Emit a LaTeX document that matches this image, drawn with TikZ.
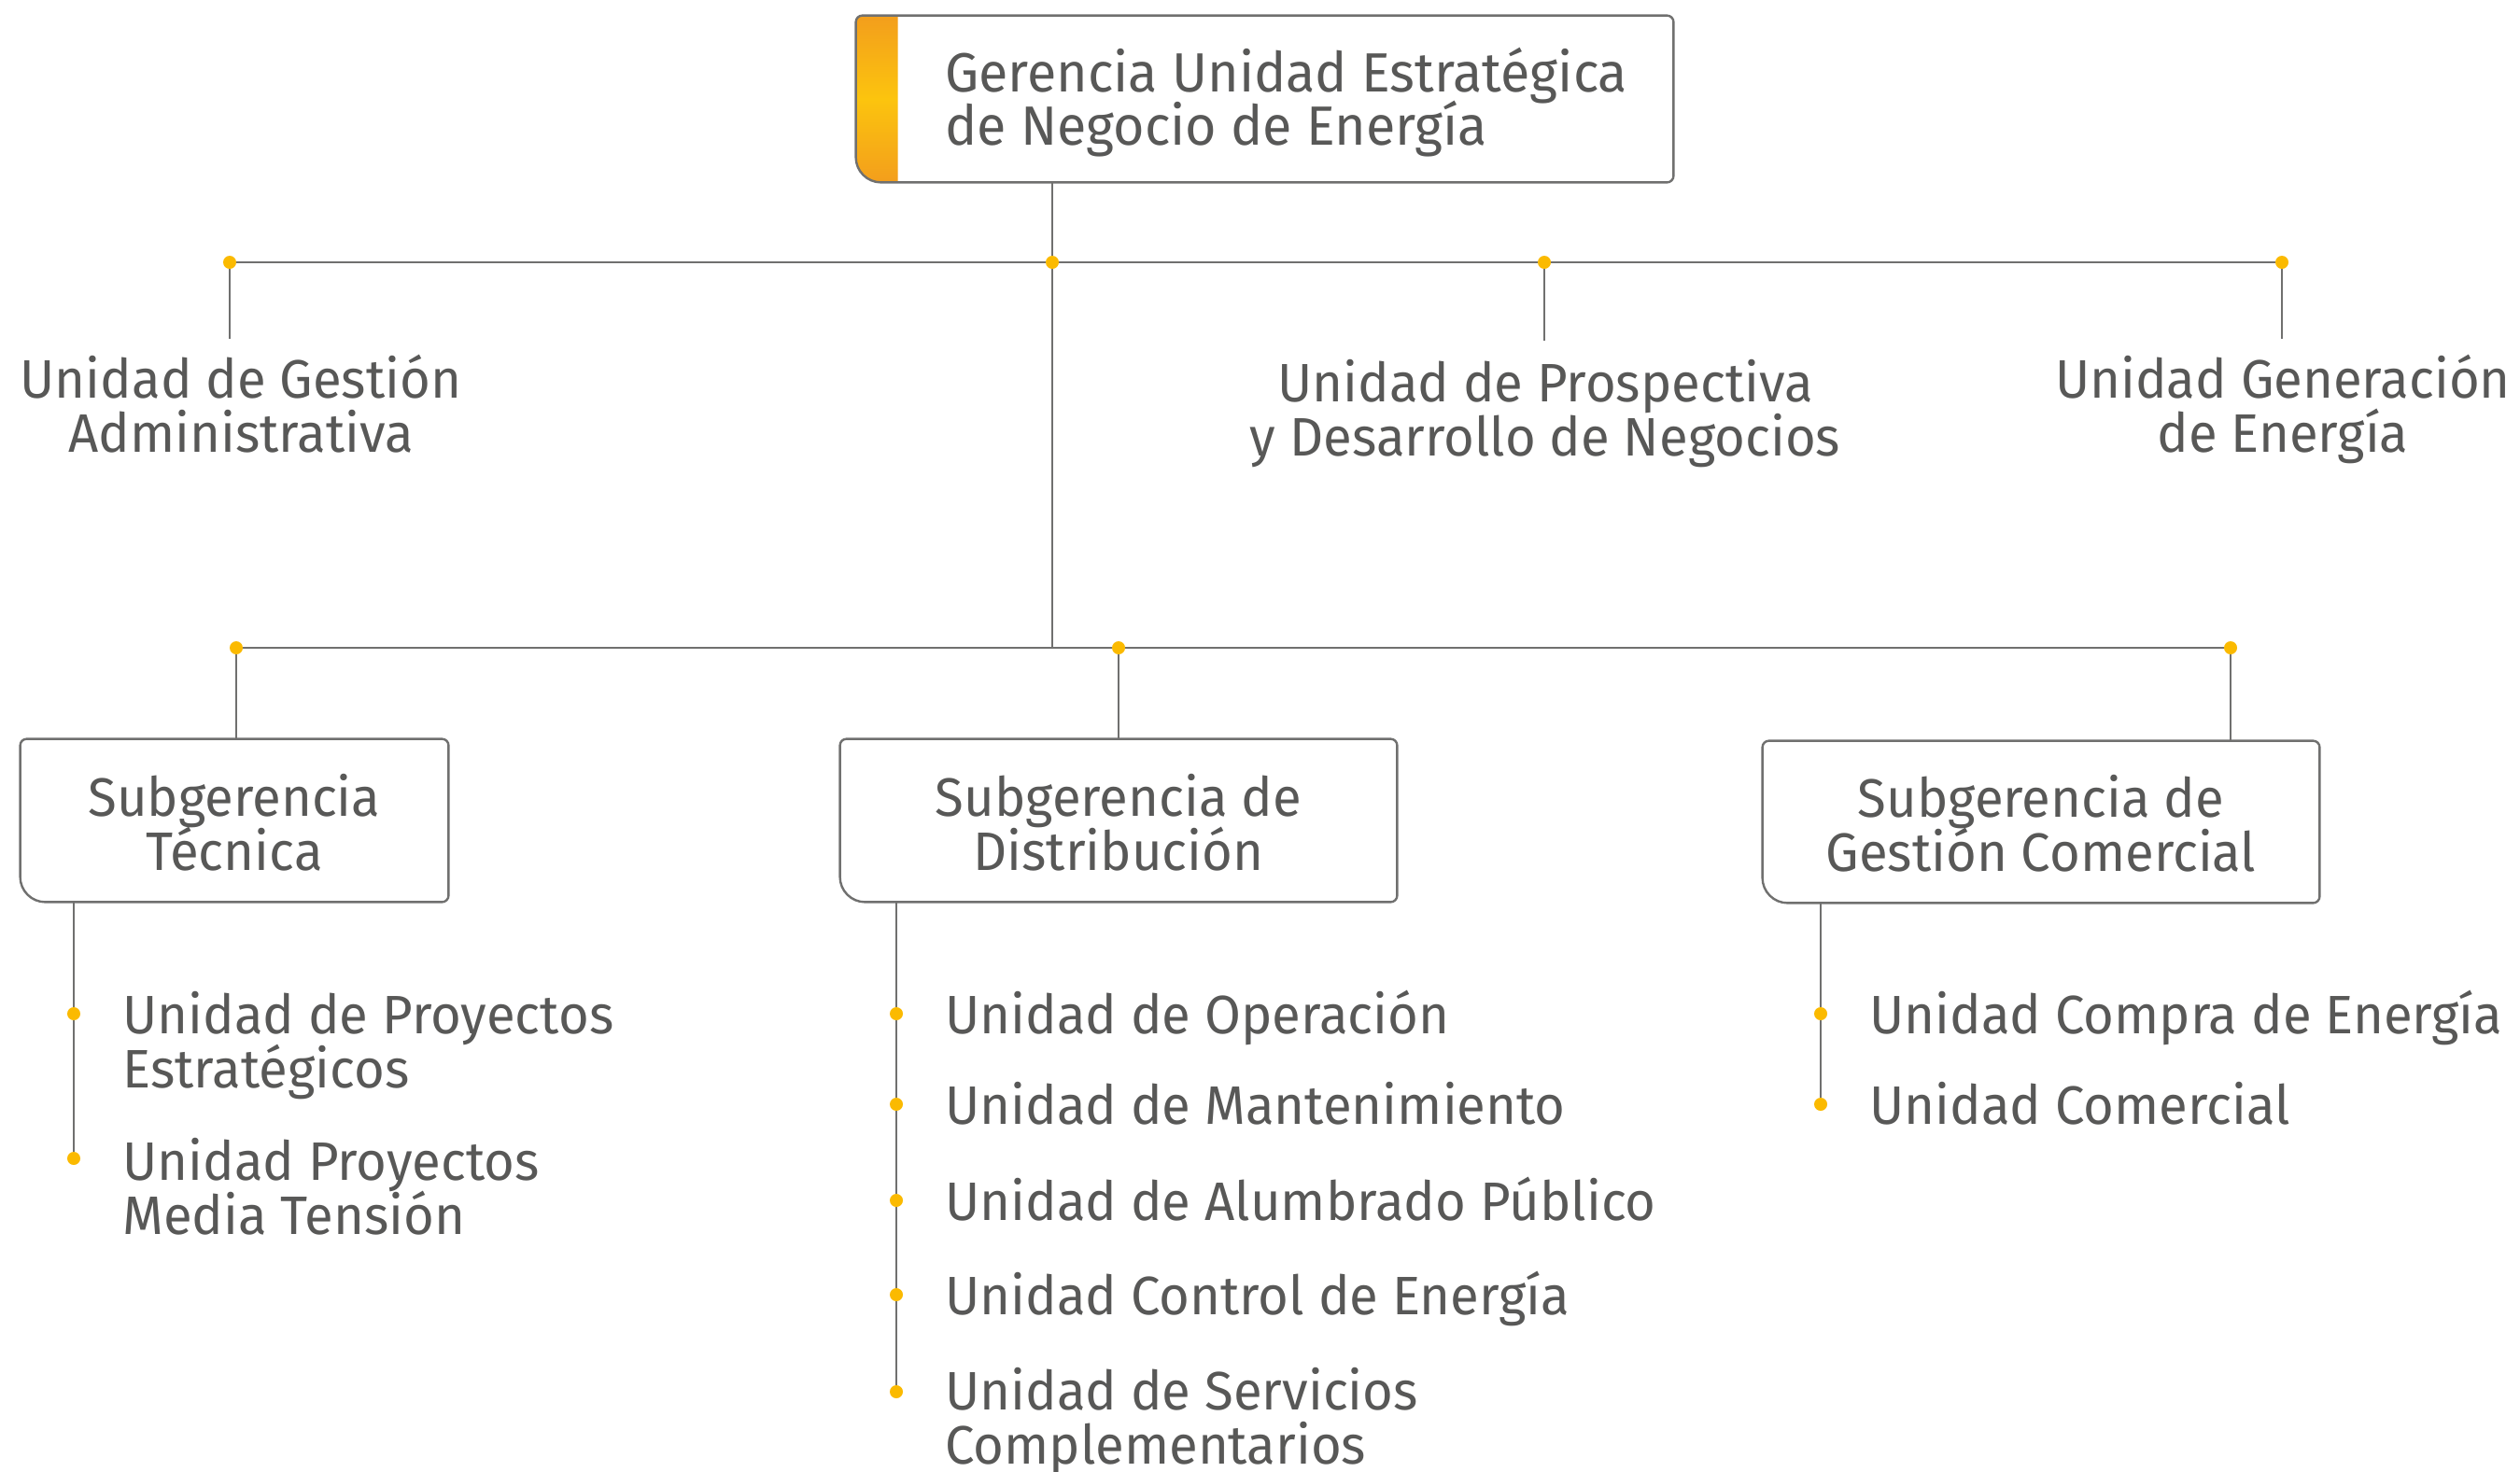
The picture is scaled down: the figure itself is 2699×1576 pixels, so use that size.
\documentclass[tikz,border=0pt]{standalone}
\usepackage{fontspec}
\setmainfont{Fira Sans}[FakeStretch=0.97]
\usetikzlibrary{calc}
\definecolor{txt}{RGB}{88,88,87}
\definecolor{ln}{RGB}{112,112,111}
\definecolor{dotc}{RGB}{251,186,0}
\definecolor{orA}{RGB}{243,158,28}
\definecolor{orB}{RGB}{252,196,14}
\newcommand\Tl{\rule{0pt}{30pt}}
\newcommand\Bl{\rule[-9pt]{0pt}{9pt}}
\newcommand\Bb{\rule[-6pt]{0pt}{6pt}}
\begin{document}
\lineskiplimit=-100pt
\lineskip=0pt
\begin{tikzpicture}[x=0.5pt,y=-0.5pt,
  lbl/.style={inner sep=0pt,text=txt,font=\fontsize{29}{29}\selectfont},
  toplbl/.style={inner sep=0pt,text=txt,font=\fontsize{29.6}{28.5}\selectfont,align=left,anchor=west},
  ctr/.style={lbl,align=center},
  lft/.style={lbl,align=left,anchor=west},
  boxn/.style={ctr,minimum height=87pt},
  outline/.style={draw=ln,line width=1.2pt},
  conn/.style={draw=ln,line width=1.25pt},
  dotn/.style={circle,fill=dotc,inner sep=0pt,minimum size=7pt}]
\fill[white] (0,0) rectangle (2699,1576);
\useasboundingbox (0,0) rectangle (2699,1576);

% top box
\node[minimum width=437.5pt,minimum height=89pt,inner sep=0pt] (top) at (1354.5,106) {};
\shade[top color=orA,bottom color=orA,middle color=orB]
  (top.west) [rounded corners=3.5pt] -- (top.north west) -- ($(top.north west)+(40,0)$) [sharp corners]
  -- ($(top.north west)+(45,0)$) -- ($(top.south west)+(45,0)$) -- ($(top.south west)+(40,0)$)
  [rounded corners=13.5pt] -- (top.south west) -- cycle;
\node[toplbl] (toptxt) at (1012,105.5) {\Tl Gerencia Unidad Estratégica\\de Negocio de Energía\Bl};

% coordinates
\coordinate (d1) at (246,281);
\coordinate (j1) at (1127,281);
\coordinate (d3) at (1654,281);
\coordinate (d4) at (2444,281);
\coordinate (e1) at (246,363);
\coordinate (e3) at (1654,365);
\coordinate (e4) at (2444,363);
\coordinate (s1) at (253,694);
\coordinate (j2) at (1127,694);
\coordinate (s2) at (1198,694);
\coordinate (s3) at (2389,694);
\coordinate (t1) at (79,1086);
\coordinate (t2) at (79,1241);
\coordinate (u1) at (960,1086);
\coordinate (u2) at (960,1183);
\coordinate (u3) at (960,1286);
\coordinate (u4) at (960,1387);
\coordinate (u5) at (960,1491);
\coordinate (c1) at (1950,1086);
\coordinate (c2) at (1950,1183);

% level 1 labels
\node[ctr] (adm) at (258,434) {\Tl Unidad de Gestión\\Administrativa\Bl};
\node[ctr] (pro) at (1655,438) {\Tl Unidad de Prospectiva\\y Desarrollo de Negocios\Bl};
\node[ctr] (gen) at (2445,434) {\Tl Unidad Generación\\de Energía\Bl};

% subgerencias
\node[boxn,minimum width=229pt] (tec) at (251,879) {\Tl Subgerencia\\Técnica\Bb};
\node[boxn,minimum width=298pt] (dis) at (1198,879) {\Tl Subgerencia de\\Distribución\Bb};
\node[boxn,minimum width=298pt,minimum height=86.5pt] (com) at (2186,880.5) {\Tl Subgerencia de\\Gestión Comercial\Bb};

% connectors
\draw[conn] (top.south -| j1) -- (j2);
\draw[conn] (d1) -- (d4);
\draw[conn] (d1) -- (e1);
\draw[conn] (d3) -- (e3);
\draw[conn] (d4) -- (e4);
\draw[conn] (s1) -- (s3);
\draw[conn] (s1) -- (tec.north -| s1);
\draw[conn] (s2) -- (dis.north -| s2);
\draw[conn] (s3) -- (com.north -| s3);
\draw[conn] (tec.south -| t1) -- (t2);
\draw[conn] (dis.south -| u1) -- (u5);
\draw[conn] (com.south -| c1) -- (c2);

% outlines
\foreach \b in {top,tec,dis,com}{
  \draw[outline] (\b.west) [rounded corners=3.5pt] -- (\b.north west) -- (\b.north) -- (\b.north east)
    -- (\b.east) -- (\b.south east) -- (\b.south) [rounded corners=13.5pt] -- (\b.south west) -- cycle;
}

% dots
\node[dotn] (nd1) at (d1) {};
\node[dotn] (nj1) at (j1) {};
\node[dotn] (nd3) at (d3) {};
\node[dotn] (nd4) at (d4) {};
\node[dotn] (ns1) at (s1) {};
\node[dotn] (ns2) at (s2) {};
\node[dotn] (ns3) at (s3) {};
\node[dotn] (nt1) at (t1) {};
\node[dotn] (nt2) at (t2) {};
\node[dotn] (nu1) at (u1) {};
\node[dotn] (nu2) at (u2) {};
\node[dotn] (nu3) at (u3) {};
\node[dotn] (nu4) at (u4) {};
\node[dotn] (nu5) at (u5) {};
\node[dotn] (nc1) at (c1) {};
\node[dotn] (nc2) at (c2) {};

% sub-items
\node[lft] (tp1) at (131,1115.5) {\Tl Unidad de Proyectos\\Estratégicos\Bl};
\node[lft] (tp2) at (131,1272) {\Tl Unidad Proyectos\\Media Tensión\Bl};
\node[lft] (up1) at (1012,1086) {\Tl Unidad de Operación\Bl};
\node[lft] (up2) at (1012,1183) {\Tl Unidad de Mantenimiento\Bl};
\node[lft] (up3) at (1012,1286) {\Tl Unidad de Alumbrado Público\Bl};
\node[lft] (up4) at (1012,1387) {\Tl Unidad Control de Energía\Bl};
\node[lft] (up5) at (1012,1518) {\Tl Unidad de Servicios\\Complementarios\Bl};
\node[lft] (cp1) at (2002,1086) {\Tl Unidad Compra de Energía\Bl};
\node[lft] (cp2) at (2002,1183) {\Tl Unidad Comercial\Bl};
\end{tikzpicture}
\end{document}
